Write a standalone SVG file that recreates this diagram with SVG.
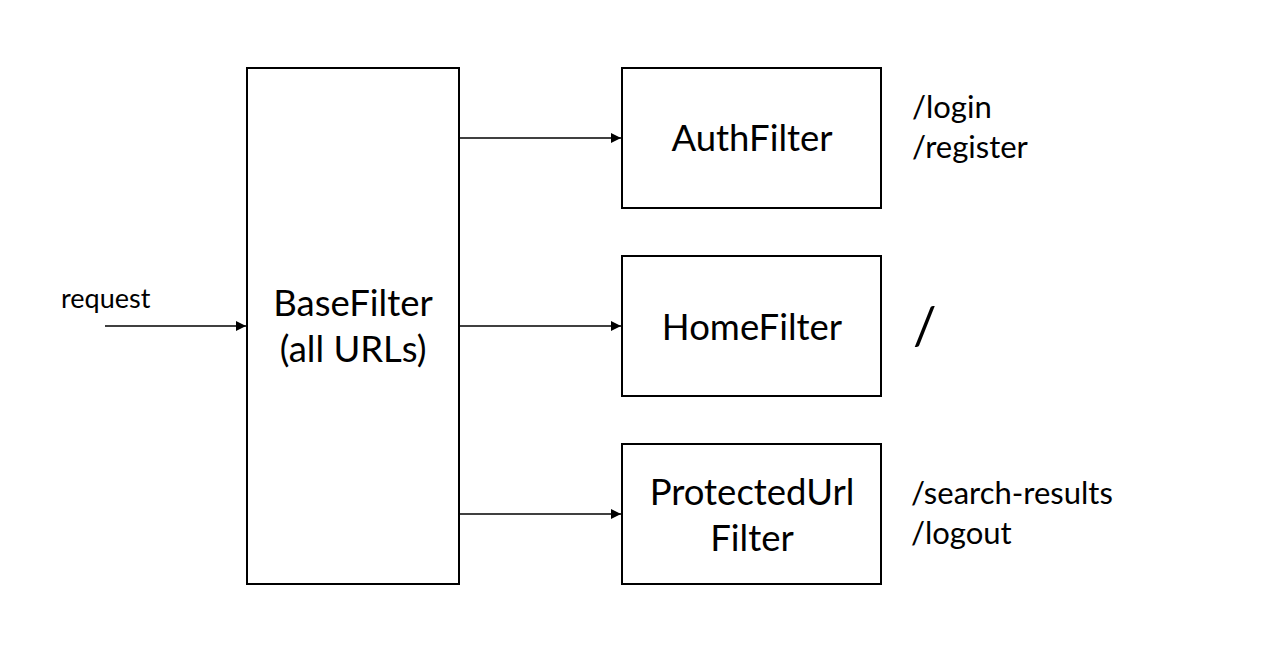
<svg xmlns="http://www.w3.org/2000/svg" width="1286" height="654" viewBox="0 0 1286 654">
<style>
.box{fill:#fff;stroke:#000;stroke-width:2}
.t{font-family:Lato,"Open Sans",sans-serif;fill:#000}
.big{font-size:36.5px;text-anchor:middle}
.lab{font-size:31px}
.edge{stroke:#000;stroke-width:1.6;fill:none;marker-end:url(#ah)}
</style>
<defs>
<marker id="ah" viewBox="0 0 10 10" refX="10" refY="5" markerWidth="11" markerHeight="10" markerUnits="userSpaceOnUse" orient="auto">
<path d="M0,0 L10,5 L0,10 z" fill="#000"/>
</marker>
</defs>
<rect width="1286" height="654" fill="#fff"/>
<g id="connectors">
<line class="edge" x1="105" y1="326" x2="246" y2="326"/>
<line class="edge" x1="459" y1="138" x2="621" y2="138"/>
<line class="edge" x1="459" y1="326" x2="621" y2="326"/>
<line class="edge" x1="459" y1="514" x2="621" y2="514"/>
</g>
<g id="request"><text class="t" x="61" y="308" font-size="27">request</text></g>
<g id="basefilter">
<rect class="box" x="247" y="68" width="212" height="516"/>
<text class="t big" x="353" y="316">BaseFilter</text>
<text class="t big" x="353" y="362">(all URLs)</text>
</g>
<g id="authfilter">
<rect class="box" x="622" y="68" width="259" height="140"/>
<text class="t big" x="752" y="151">AuthFilter</text>
</g>
<g id="homefilter">
<rect class="box" x="622" y="256" width="259" height="140"/>
<text class="t big" x="752" y="340">HomeFilter</text>
</g>
<g id="protectedurlfilter">
<rect class="box" x="622" y="444" width="259" height="140"/>
<text class="t big" x="752" y="505">ProtectedUrl</text>
<text class="t big" x="752" y="551">Filter</text>
</g>
<g id="labels">
<text class="t lab" x="912" y="118">/login</text>
<text class="t lab" x="912" y="158">/register</text>
<text class="t" x="913" y="344" font-size="52">/</text>
<text class="t lab" x="911" y="504">/search-results</text>
<text class="t lab" x="911" y="544">/logout</text>
</g>
</svg>
